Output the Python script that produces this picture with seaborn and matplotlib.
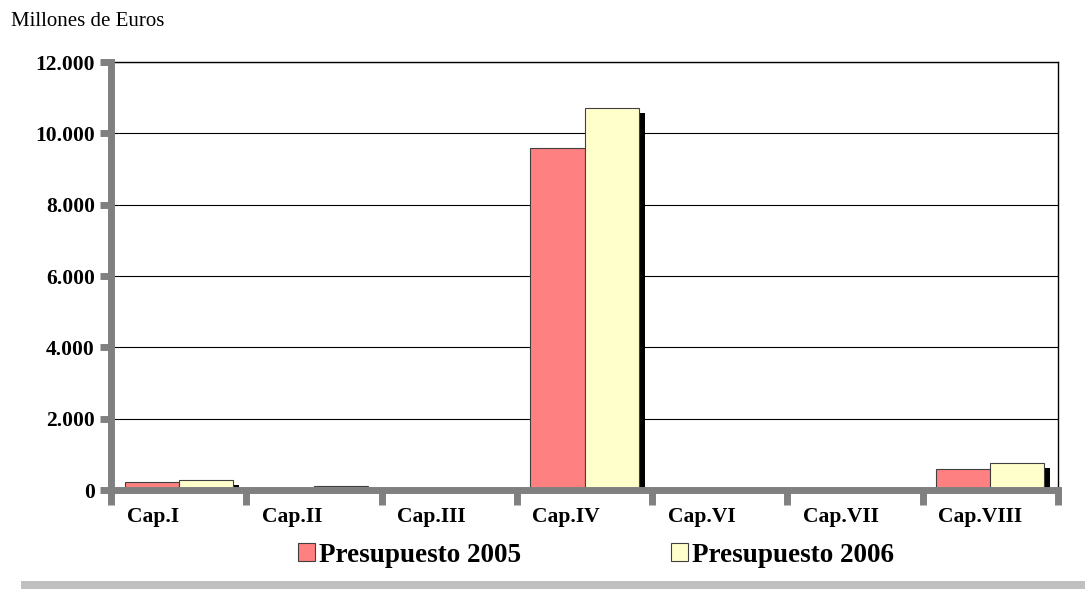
# Gráfico de barras: presupuesto por capítulos 2005 vs 2006

import numpy as np
import pandas as pd
import matplotlib
matplotlib.use("Agg")
import matplotlib.pyplot as plt
import matplotlib.patheffects as pe
from matplotlib.patches import Rectangle
from matplotlib.ticker import FuncFormatter
import seaborn as sns

# Datos (millones de euros)
capitulos = ["Cap.I", "Cap.II", "Cap.III", "Cap.IV", "Cap.VI", "Cap.VII", "Cap.VIII"]
presupuesto_2005 = [230, 70, 0, 9600, 0, 0, 590]
presupuesto_2006 = [270, 100, 0, 10700, 0, 0, 760]
series = ["Presupuesto 2005", "Presupuesto 2006"]
colores = ["#ff8080", "#ffffcc"]
y_ticks = [0, 2000, 4000, 6000, 8000, 10000, 12000]

df = pd.DataFrame({
    "capitulo": capitulos * 2,
    "valor": presupuesto_2005 + presupuesto_2006,
    "serie": [series[0]] * len(capitulos) + [series[1]] * len(capitulos),
})

sns.set_style("white")
plt.rcParams["font.family"] = ["Liberation Serif", "DejaVu Serif"]
plt.rcParams["text.color"] = "black"
plt.rcParams["xtick.labelcolor"] = "black"
plt.rcParams["ytick.labelcolor"] = "black"

W, H = 1085, 589
fig = plt.figure(figsize=(W / 100, H / 100), dpi=100)
ax = fig.add_axes([111 / W, 1 - 490 / H, 947 / W, 428 / H])

sns.barplot(data=df, x="capitulo", y="valor", hue="serie", palette=colores,
            saturation=1, width=0.8, edgecolor="#404040", linewidth=0.8, ax=ax)

# Sombra negra de las barras (estilo Excel)
for cont in ax.containers:
    for bar in cont:
        bar.set_path_effects([
            pe.SimplePatchShadow(offset=(4.3, -3.6), shadow_rgbFace="black", alpha=1.0),
            pe.Normal(),
        ])

ax.set_ylim(0, 12000)
ax.set_xlim(-0.5, len(capitulos) - 0.5)
ax.set_yticks(y_ticks)
ax.yaxis.set_major_formatter(FuncFormatter(lambda v, p: f"{v:,.0f}".replace(",", ".")))
ax.yaxis.grid(True, color="black", linewidth=0.8)
ax.set_axisbelow(True)

# Etiquetas del eje x (alineadas a la izquierda como en el original)
pos = np.arange(len(capitulos))
ax.set_xticks(pos - 0.385, capitulos)
ax.set_xticks(np.arange(len(capitulos) + 1) - 0.5, minor=True)
for lbl in ax.get_xticklabels():
    lbl.set_ha("left")
    lbl.set_fontweight("bold")
for lbl in ax.get_yticklabels():
    lbl.set_fontweight("bold")

ax.tick_params(axis="x", which="major", length=0, pad=12, labelsize=15.5, labelcolor="black")
ax.tick_params(axis="x", which="minor", length=11, width=5, color="#808080", direction="out", bottom=True)
ax.tick_params(axis="y", which="major", length=8, width=5, color="#808080", direction="out",
               left=True, pad=3.6, labelsize=15.5, labelcolor="black")

ax.set_xlabel("")
ax.set_ylabel("")

for s in ["left", "bottom"]:
    ax.spines[s].set_color("#808080")
    ax.spines[s].set_linewidth(5)
    ax.spines[s].set_zorder(3)
for s in ["top", "right"]:
    ax.spines[s].set_color("black")
    ax.spines[s].set_linewidth(1)

# Leyenda inferior
handles, labels = ax.get_legend_handles_labels()
ax.legend_.remove()
leg = fig.legend(handles, labels, loc="center", bbox_to_anchor=(596 / W, 1 - 555 / H), ncol=2,
                 frameon=False, prop={"weight": "bold", "size": 19.5}, handlelength=0.65,
                 handleheight=0.65, handletextpad=0.15, columnspacing=5.5, borderpad=0)
for t in leg.get_texts():
    t.set_color("black")

fig.text(11 / W, 1 - 12 / H, "Millones de Euros", fontsize=15, va="top", ha="left", color="black")

# Franja gris inferior
fig.patches.append(Rectangle((21 / W, 0), 1 - 21 / W, 8 / H, transform=fig.transFigure,
                             facecolor="#c0c0c0", edgecolor="none"))

plt.savefig("out.png", dpi=100)
plt.close()
